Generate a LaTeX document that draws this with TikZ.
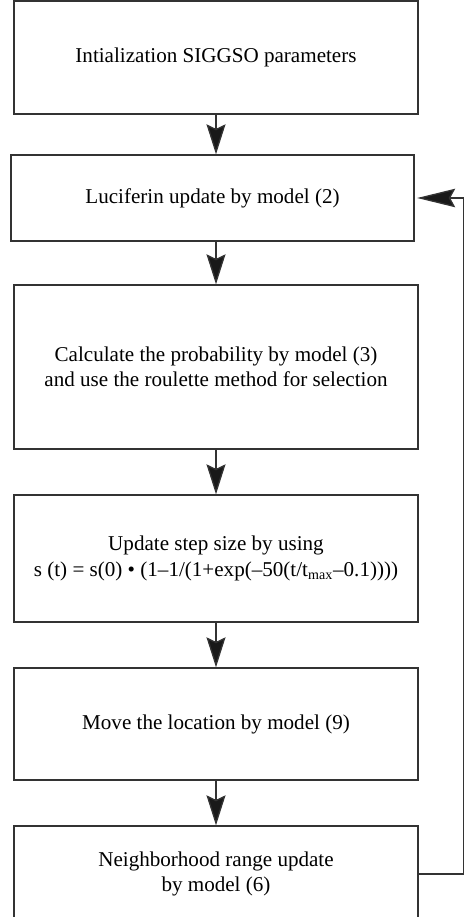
\documentclass[tikz,border=0pt]{standalone}
\usepackage{fontspec}
\setmainfont{Liberation Serif}
\usetikzlibrary{arrows.meta,positioning}
\tikzset{
  >=Stealth,
  line join=miter,
  every picture/.style={line width=0.75pt},
  box/.style={draw=black!80, minimum width=8.08cm, align=center, inner sep=0pt,
    font=\fontsize{12}{14.5}\selectfont},
  arrow/.style={-{Stealth[length=6mm,width=3.8mm,inset=0.9mm,fill=black!90]}, draw=black!80},
  backarrow/.style={-{Stealth[length=7.6mm,width=3.7mm,inset=1mm,fill=black!90]}, draw=black!80}
}

\begin{document}
\begin{tikzpicture}

% 영역
\useasboundingbox (0,0) rectangle (9.3,-18.34);

% 단계 상자
\node[box, minimum height=2.26cm] (init) at (4.32,-1.15) {Intialization SIGGSO parameters};
\node[box, minimum height=1.72cm, minimum width=8.06cm] (lucif) at (4.25,-3.96) {Luciferin update by model (2)};
\node[box, minimum height=3.28cm] (prob) at (4.32,-7.34) {Calculate the probability by model (3)\\and use the roulette method for selection};
\node[box, minimum height=2.54cm] (stepsz) at (4.32,-11.17) {Update step size by using\\s (t) = s(0) \textbullet{} (1–1/(1+exp(–50(t/t\textsubscript{max}–0.1))))};
\node[box, minimum height=2.24cm] (move) at (4.32,-14.48) {Move the location by model (9)};
\node[box, minimum height=1.92cm] (nbr) at (4.32,-17.48) {Neighborhood range update\\by model (6)};

% 화살표
\draw[arrow] (init.south) -- (init.south |- lucif.north);
\draw[arrow] (prob.north |- lucif.south) -- (prob.north);
\draw[arrow] (prob) -- (stepsz);
\draw[arrow] (stepsz) -- (move);
\draw[arrow] (move) -- (nbr);

% 되돌림
\draw[backarrow, shorten >=0.05cm] (nbr.east) -- ++(0.9,0) |- (lucif.east);

\end{tikzpicture}
\end{document}
